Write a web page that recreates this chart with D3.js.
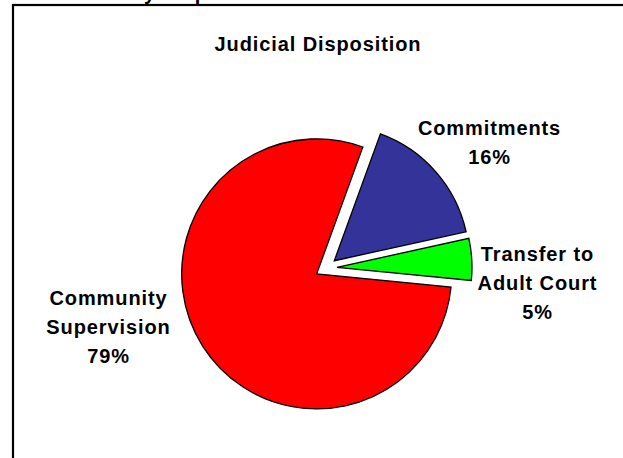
<!DOCTYPE html>
<html>
<head>
<meta charset="utf-8">
<script src="https://cdn.jsdelivr.net/npm/d3@7"></script>
<style>
  html, body { margin: 0; padding: 0; background: #fff; }
  svg { display: block; }
  text { font-family: Arial, "Liberation Sans", sans-serif; font-weight: bold; font-size: 20px; fill: #000; letter-spacing: 0.9px; }
</style>
</head>
<body>
<svg id="chart" width="623" height="458"></svg>
<script>
// ---- data ----
const categories = ["Commitments", "Transfer to Adult Court", "Community Supervision"];
const values = [16, 5, 79];
const labelLines = [["Commitments"], ["Transfer to", "Adult Court"], ["Community", "Supervision"]];
const percentLabels = ["16%", "5%", "79%"];
const colors = ["#333399", "#00FF00", "#FF0000"];
const chartTitle = "Judicial Disposition";

// ---- layout ----
const W = 623, H = 458;
const svg = d3.select("#chart");
const cx = 326, cy = 268, R = 135, explode = 11;
const startDeg = 20;

// frame (extends beyond the visible area on right/bottom)
svg.append("rect").attr("x", 13).attr("y", 5).attr("width", 700).attr("height", 600)
  .attr("fill", "none").attr("stroke", "#000").attr("stroke-width", 2.2);

// clipped upper title remnants
svg.append("text").attr("x", 156).attr("y", 0).attr("text-anchor", "end").text("Summary");
svg.append("text").attr("x", 161).attr("y", 0).attr("text-anchor", "start").text("Disposition");

// chart title
svg.append("text").attr("x", 318).attr("y", 51).attr("text-anchor", "middle").text(chartTitle);

const pie = d3.pie().sort(null).value(d => d)
  .startAngle(startDeg * Math.PI / 180)
  .endAngle(startDeg * Math.PI / 180 + 2 * Math.PI);
const arc = d3.arc().innerRadius(0).outerRadius(R);
const arcs = pie(values);

const g = svg.append("g").attr("transform", `translate(${cx},${cy})`);
g.selectAll("path").data(arcs).join("path")
  .attr("d", arc)
  .attr("fill", (d, i) => colors[i])
  .attr("stroke", "#000").attr("stroke-width", 1.3).attr("stroke-linejoin", "miter")
  .attr("transform", d => {
    const a = (d.startAngle + d.endAngle) / 2;
    return `translate(${explode * Math.sin(a)},${-explode * Math.cos(a)})`;
  });

// data labels
const labelPos = [
  { x: 489, y: 135 },
  { x: 537, y: 261 },
  { x: 108, y: 305 }
];
const lineH = 29;
labelPos.forEach((p, i) => {
  const lines = labelLines[i].concat([percentLabels[i]]);
  lines.forEach((t, j) => {
    svg.append("text").attr("x", p.x + 0.5).attr("y", p.y + j * lineH)
      .attr("text-anchor", "middle").text(t);
  });
});
</script>
</body>
</html>
